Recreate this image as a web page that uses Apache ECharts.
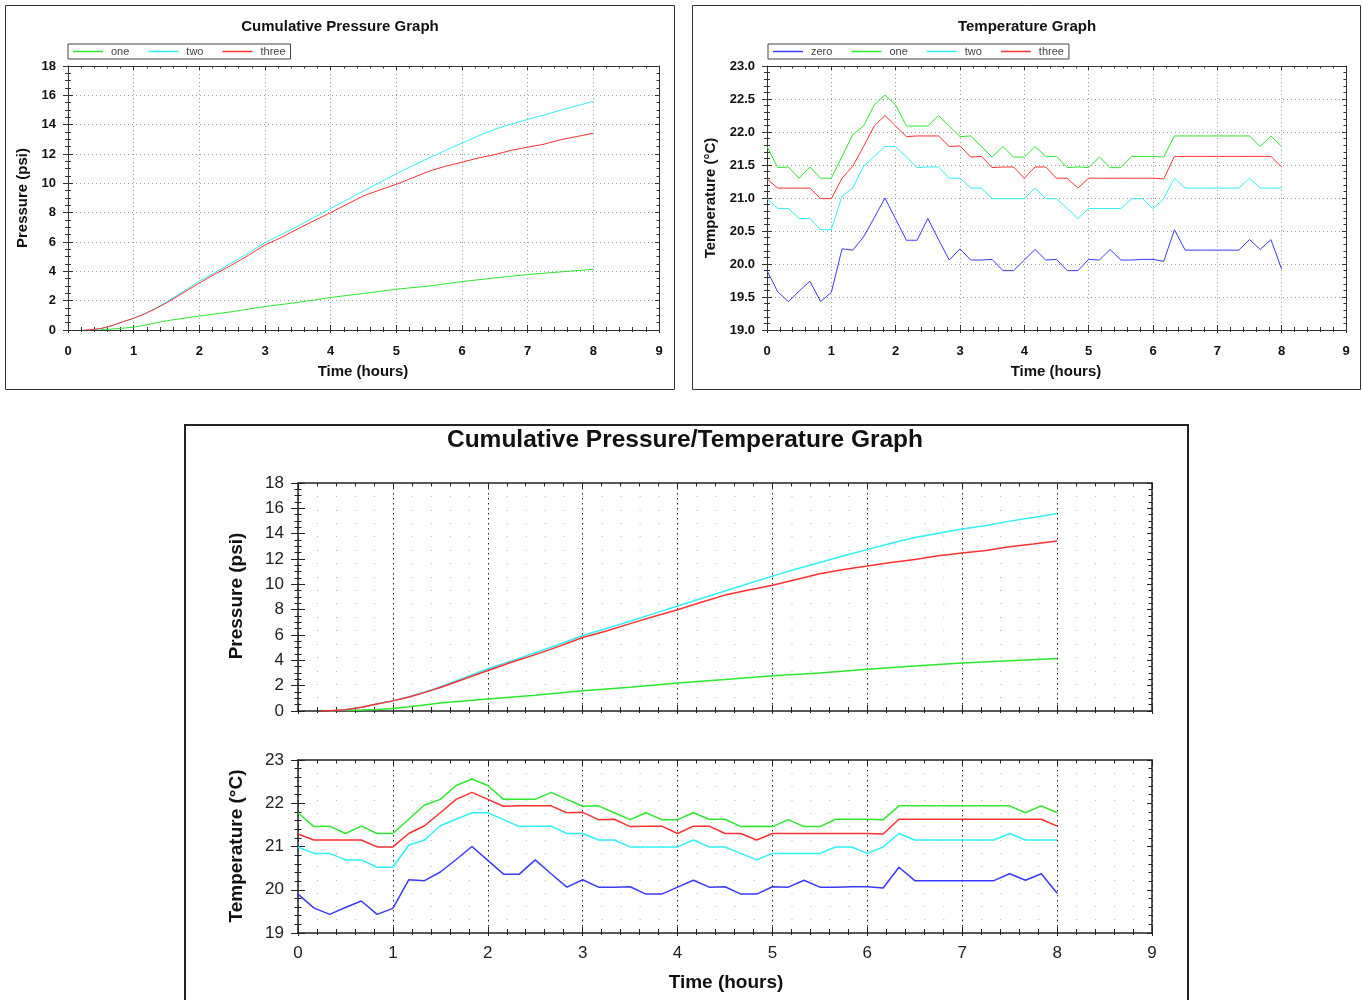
<!DOCTYPE html>
<html><head><meta charset="utf-8">
<script src="https://cdn.jsdelivr.net/npm/echarts@6/dist/echarts.min.js"></script>
<style>html,body{margin:0;padding:0;background:#fff}#c{width:1362px;height:1000px}</style>
</head><body><div id="c"></div>
<script>
// ---------- data ----------
const timeTicks = [0,1,2,3,4,5,6,7,8,9];
const pressureTicks = [0,2,4,6,8,10,12,14,16,18];
const tempTicksFine = [19.0,19.5,20.0,20.5,21.0,21.5,22.0,22.5,23.0];
const tempTicksCoarse = [19,20,21,22,23];

const tempMinutes = [0,10,20,30,40,50,60,70,80,90,100,110,120,130,140,150,160,170,180,190,200,210,220,230,240,250,260,270,280,290,300,310,320,330,340,350,360,370,380,390,400,410,420,430,440,450,460,470,480];
const tempZero  = [19.90,19.58,19.43,19.59,19.74,19.43,19.57,20.23,20.21,20.41,20.70,21.00,20.68,20.36,20.36,20.69,20.37,20.06,20.23,20.06,20.06,20.07,19.90,19.90,20.06,20.22,20.06,20.07,19.90,19.90,20.07,20.06,20.22,20.06,20.06,20.07,20.07,20.04,20.52,20.21,20.21,20.21,20.21,20.21,20.21,20.37,20.22,20.37,19.92];
const tempOne   = [21.78,21.46,21.47,21.30,21.47,21.30,21.30,21.63,21.96,22.09,22.41,22.56,22.41,22.09,22.09,22.09,22.25,22.09,21.93,21.94,21.78,21.62,21.78,21.62,21.62,21.78,21.63,21.63,21.46,21.47,21.46,21.62,21.46,21.46,21.63,21.63,21.63,21.62,21.94,21.94,21.94,21.94,21.94,21.94,21.94,21.94,21.78,21.94,21.78];
const tempTwo   = [20.99,20.84,20.84,20.69,20.69,20.52,20.52,21.03,21.15,21.48,21.63,21.78,21.78,21.62,21.46,21.47,21.47,21.30,21.30,21.15,21.15,20.99,20.99,20.99,20.99,21.15,20.99,20.99,20.84,20.69,20.84,20.84,20.84,20.84,20.99,20.99,20.84,20.99,21.30,21.15,21.15,21.15,21.15,21.15,21.15,21.30,21.15,21.15,21.15];
const tempThree = [21.29,21.15,21.15,21.15,21.15,20.99,20.99,21.30,21.48,21.78,22.09,22.25,22.09,21.93,21.94,21.94,21.94,21.78,21.79,21.62,21.63,21.46,21.47,21.47,21.30,21.47,21.47,21.30,21.30,21.15,21.30,21.30,21.30,21.30,21.30,21.30,21.30,21.29,21.63,21.63,21.63,21.63,21.63,21.63,21.63,21.63,21.63,21.63,21.47];

const pressureHours = [0.25,0.33,0.5,0.67,0.83,1.0,1.17,1.33,1.5,2.0,2.25,2.5,2.75,3.0,3.25,3.5,3.75,4.0,4.25,4.5,4.75,5.0,5.25,5.5,5.75,6.0,6.25,6.5,6.75,7.0,7.25,7.5,7.75,8.0];
const pressOne   = [null,null,0.03,0.07,0.12,0.2,0.33,0.48,0.63,0.95,null,1.25,null,1.6,null,1.88,null,2.22,null,2.49,null,2.78,null,3.0,null,3.3,null,3.55,null,3.78,null,3.96,null,4.14];
const pressTwo   = [null,0.0,0.1,0.3,0.55,0.8,1.12,1.48,1.9,3.33,3.95,4.6,5.25,5.96,6.52,7.08,7.69,8.29,8.88,9.48,10.07,10.65,11.21,11.73,12.25,12.74,13.24,13.69,14.04,14.36,14.65,14.99,15.28,15.6];
const pressThree = [0.0,0.02,0.1,0.3,0.55,0.8,1.1,1.45,1.85,3.2,3.85,4.45,5.1,5.8,6.31,6.9,7.46,8.0,8.58,9.15,9.55,9.93,10.38,10.83,11.17,11.44,11.73,11.96,12.25,12.47,12.67,12.97,13.19,13.42];

const COLORS = {zero:'#3a3aff', one:'#2ee82e', two:'#2ef0f8', three:'#ff3030'};
const FONT = 'Liberation Sans, Arial, sans-serif';

// ---------- helpers ----------
const xAxes = [], yAxes = [];
function rangeOf(t){ return {min:t[0], max:t[t.length-1], interval:t[1]-t[0]}; }
function addFrame(gi, o){
  const lc = o.lineColor, lw = o.lineWidth;
  const line = {show:true, onZero:false, lineStyle:{color:lc, width:lw}};
  const noLine = {show:false, onZero:false};
  const tls = {color:lc, width:1};
  const xb = Object.assign({type:'value', gridIndex:gi}, rangeOf(o.xTicks));
  const yb = Object.assign({type:'value', gridIndex:gi}, rangeOf(o.yTicks));
  const mx = xAxes.length;
  xAxes.push(Object.assign({}, xb, {position:'bottom', axisLine:line,
    axisTick:{show:true, inside:true, length:o.tIn, lineStyle:tls},
    minorTick:{show:true, splitNumber:o.xMinor, length:o.tInMinor, lineStyle:tls},
    axisLabel:Object.assign({show:o.showX, margin:o.xMargin}, o.label),
    splitLine:o.xSplit, minorSplitLine:{show:false}}));
  xAxes.push(Object.assign({}, xb, {position:'bottom', axisLine:noLine,
    axisTick:{show:true, inside:false, length:o.tOut, lineStyle:tls},
    minorTick:{show:true, splitNumber:o.xMinor, length:o.tOutMinor, lineStyle:tls},
    axisLabel:{show:false}, splitLine:{show:false}}));
  xAxes.push(Object.assign({}, xb, {position:'top', axisLine:line,
    axisTick:{show:true, inside:true, length:o.tEdge, lineStyle:tls},
    minorTick:{show:true, splitNumber:o.xMinor, length:o.tEdgeMinor, lineStyle:tls},
    axisLabel:{show:false}, splitLine:{show:false}}));
  const my = yAxes.length;
  yAxes.push(Object.assign({}, yb, {position:'left', axisLine:line,
    axisTick:{show:true, inside:false, length:o.tOutY, lineStyle:tls},
    minorTick:{show:true, splitNumber:o.yMinor, length:o.tOutYMinor, lineStyle:tls},
    axisLabel:Object.assign({show:true, margin:o.yMargin, formatter:o.yFmt}, o.label),
    splitLine:o.ySplit, minorSplitLine:{show:false}}));
  yAxes.push(Object.assign({}, yb, {position:'left', axisLine:noLine,
    axisTick:{show:true, inside:true, length:o.tOutY, lineStyle:tls},
    minorTick:{show:true, splitNumber:o.yMinor, length:o.tOutYMinor, lineStyle:tls},
    axisLabel:{show:false}, splitLine:{show:false}}));
  yAxes.push(Object.assign({}, yb, {position:'right', axisLine:line,
    axisTick:{show:true, inside:true, length:o.tEdge, lineStyle:tls},
    minorTick:{show:true, splitNumber:o.yMinor, length:o.tEdgeMinor, lineStyle:tls},
    axisLabel:{show:false}, splitLine:{show:false}}));
  if (o.dotRows){
    yAxes.push({type:'value', gridIndex:gi, min:0, max:o.dotRows, interval:1, position:'left',
      axisLine:{show:false, onZero:false}, axisTick:{show:false}, axisLabel:{show:false},
      splitLine:{show:true, lineStyle:{color:'#b4b4b4', width:1, type:[1, o.dotGap]}}});
  }
  return {x:mx, y:my};
}

const topLabel = {fontFamily:FONT, fontSize:13, fontWeight:'bold', color:'#111'};
const botLabel = {fontFamily:FONT, fontSize:17, fontWeight:'normal', color:'#222'};
const grayGrid = {show:true, lineStyle:{color:'#9a9a9a', width:1, type:[1,3]}};
const blackVGrid = {show:true, lineStyle:{color:'#222', width:1, type:[1.5,3.5]}};

const topCommon = {lineColor:'#333', lineWidth:1, tIn:5, tInMinor:3, tOut:3, tOutMinor:2, tEdge:4, tEdgeMinor:2.5,
  tOutY:5, tOutYMinor:3, xMinor:5, label:topLabel, showX:true, xMargin:15, yMargin:12, xSplit:grayGrid, ySplit:grayGrid};
const fTL = addFrame(0, Object.assign({}, topCommon, {xTicks:timeTicks, yTicks:pressureTicks, yMinor:4, yFmt:v=>String(v)}));
const fTR = addFrame(1, Object.assign({}, topCommon, {xTicks:timeTicks, yTicks:tempTicksFine, yMinor:5, yFmt:v=>v.toFixed(1)}));
const botCommon = {lineColor:'#222', lineWidth:1.5, tIn:6, tInMinor:4, tOut:3, tOutMinor:2, tEdge:5, tEdgeMinor:3.5,
  tOutY:7, tOutYMinor:3.5, xMinor:5, label:botLabel, xMargin:12, yMargin:14, xSplit:blackVGrid, ySplit:{show:false}, dotGap:17.98};
const fBP = addFrame(2, Object.assign({}, botCommon, {xTicks:timeTicks, yTicks:pressureTicks, yMinor:4, showX:false, yFmt:v=>String(v), dotRows:17}));
const fBT = addFrame(3, Object.assign({}, botCommon, {xTicks:timeTicks, yTicks:tempTicksCoarse, yMinor:5, showX:true, yFmt:v=>String(v), dotRows:13}));

function pairs(xs, ys){ const out=[]; for (let i=0;i<xs.length;i++){ if (ys[i]!==null) out.push([xs[i], ys[i]]); } return out; }
const tempHours = tempMinutes.map(m => m/60);
function line(name, frame, data, width){
  return {type:'line', name, xAxisIndex:frame.x, yAxisIndex:frame.y, data, symbol:'none', showSymbol:false,
    color:COLORS[name], itemStyle:{color:COLORS[name]}, lineStyle:{color:COLORS[name], width}, emphasis:{disabled:true}};
}
const series = [
  line('one', fTL, pairs(pressureHours, pressOne), 1),
  line('two', fTL, pairs(pressureHours, pressTwo), 1),
  line('three', fTL, pairs(pressureHours, pressThree), 1),
  line('zero', fTR, pairs(tempHours, tempZero), 1),
  line('one', fTR, pairs(tempHours, tempOne), 1),
  line('two', fTR, pairs(tempHours, tempTwo), 1),
  line('three', fTR, pairs(tempHours, tempThree), 1),
  line('one', fBP, pairs(pressureHours, pressOne), 1.5),
  line('two', fBP, pairs(pressureHours, pressTwo), 1.5),
  line('three', fBP, pairs(pressureHours, pressThree), 1.5),
  line('zero', fBT, pairs(tempHours, tempZero), 1.5),
  line('one', fBT, pairs(tempHours, tempOne), 1.5),
  line('two', fBT, pairs(tempHours, tempTwo), 1.5),
  line('three', fBT, pairs(tempHours, tempThree), 1.5)
];

const legendCommon = {orient:'horizontal', icon:'rect', itemWidth:30, itemHeight:1.5, itemGap:19, padding:[1,5],
  borderColor:'#444', borderWidth:1, selectedMode:false,
  textStyle:{fontFamily:FONT, fontSize:11, color:'#444', padding:[0,0,0,3], lineHeight:13}};

function nameText(text, x, y, size, vertical){
  return {type:'text', x, y, rotation: vertical ? Math.PI/2 : 0, silent:true,
    style:{text, fontFamily:FONT, fontSize:size, fontWeight:'bold', fill:'#111', align:'center', verticalAlign:'middle'}};
}

const option = {
  animation:false,
  backgroundColor:'#fff',
  title:[
    {text:'Cumulative Pressure Graph', left:340, top:19, textAlign:'center', padding:0,
      textStyle:{fontFamily:FONT, fontSize:15, fontWeight:'bold', color:'#111'}},
    {text:'Temperature Graph', left:1027, top:19, textAlign:'center', padding:0,
      textStyle:{fontFamily:FONT, fontSize:15, fontWeight:'bold', color:'#111'}},
    {text:'Cumulative Pressure/Temperature Graph', left:685, top:428, textAlign:'center', padding:0,
      textStyle:{fontFamily:FONT, fontSize:24.5, fontWeight:'bold', color:'#111'}}
  ],
  legend:[
    Object.assign({left:68, top:44, data:['one','two','three']}, legendCommon),
    Object.assign({left:768, top:44, data:['zero','one','two','three']}, legendCommon)
  ],
  grid:[
    {left:68, top:66, width:591, height:264, outerBoundsMode:'none'},
    {left:767, top:66, width:579, height:264, outerBoundsMode:'none'},
    {left:298, top:483, width:854, height:228, outerBoundsMode:'none'},
    {left:298, top:760, width:854, height:173, outerBoundsMode:'none'}
  ],
  xAxis:xAxes,
  yAxis:yAxes,
  series,
  graphic:[
    {type:'rect', silent:true, shape:{x:5.5, y:5.5, width:669, height:384}, style:{fill:null, stroke:'#333', lineWidth:1}},
    {type:'rect', silent:true, shape:{x:692.5, y:5.5, width:668, height:384}, style:{fill:null, stroke:'#333', lineWidth:1}},
    {type:'rect', silent:true, shape:{x:185, y:425, width:1003, height:600}, style:{fill:null, stroke:'#222', lineWidth:2}},
    nameText('Pressure (psi)', 23, 198, 15, true),
    nameText('Time (hours)', 363, 372, 15, false),
    nameText('Temperature (°C)', 711, 198, 15, true),
    nameText('Time (hours)', 1056, 372, 15, false),
    nameText('Pressure (psi)', 237, 596, 19, true),
    nameText('Temperature (°C)', 237, 846, 19, true),
    nameText('Time (hours)', 726, 983, 19, false)
  ]
};
const chart = echarts.init(document.getElementById('c'), null, {renderer:'canvas'});
chart.setOption(option);
</script></body></html>
